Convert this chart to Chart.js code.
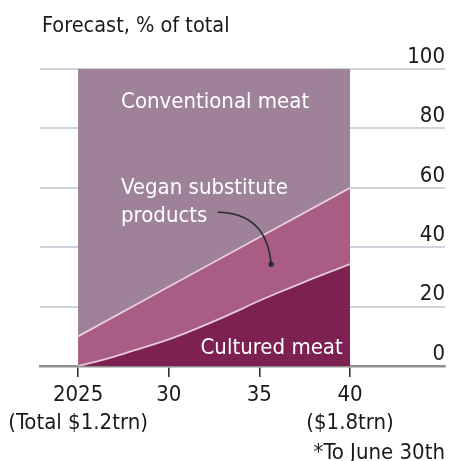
<!DOCTYPE html>
<html lang="en">
<head>
  <meta charset="UTF-8" />
  <title>Meat market forecast</title>
  <script src="https://cdn.jsdelivr.net/npm/chart.js"></script>
  <style>
    body { margin: 0; background: #fff; }
    #wrap { position: relative; width: 450px; height: 461px; }
    .txt {
      position: absolute;
      font-family: "DejaVu Sans Condensed", sans-serif;
      font-size: 22px;
      color: #1a1a1a;
      white-space: nowrap;
      line-height: 1;
    }
    #titulo { left: 42px; top: 14px; font-size: 21.5px; }
    #nota { right: 5px; top: 441px; }
  </style>
</head>
<body>
  <div id="wrap">
    <canvas id="grafico"></canvas>
    <div class="txt" id="titulo">Forecast, % of total</div>
    <div class="txt" id="nota">*To June 30th</div>
  </div>

<script>
  // values
  var culturedYears = [2025, 2026, 2027, 2028, 2029, 2030, 2031, 2032, 2033, 2034, 2035, 2036, 2037, 2038, 2039, 2040];
  var culturedShare = [0, 1.5, 3.2, 5.1, 7, 9, 11.3, 13.8, 16.4, 19.2, 22, 24.6, 27.1, 29.6, 32, 34.3];

  // top edge of vegan band (vegan + cultured)
  var veganTopYears = [2025, 2030, 2035, 2040];
  var veganTop = [10, 26.7, 43.4, 60];

  var conventionalYears = [2025, 2040];
  var conventionalTop = [100, 100];

  var tickYears = [2025, 2030, 2035, 2040];
  var tickLabels = ["2025", "30", "35", "40"];
  var tickNotes = ["(Total $1.2trn)", "", "", "($1.8trn)"];

  var FONT = '"DejaVu Sans Condensed", sans-serif';

  function pontos(xs, ys) {
    return xs.map(function (x, i) { return { x: x, y: ys[i] }; });
  }

  // in-chart labels and the pointer, placed in data units
  var rotulos = [
    { text: "Conventional meat", x: 2032.56, y: 86.9, align: "center" },
    { text: "Vegan substitute", x: 2027.37, y: 57.9, align: "left" },
    { text: "products", x: 2027.37, y: 48.6, align: "left" },
    { text: "Cultured meat", x: 2039.6, y: 4.0, align: "right" }
  ];
  var seta = { x0: 2032.7, y0: 51.8, cx: 2035.4, cy: 51.6, x1: 2035.65, y1: 34.3 };

  var anotacoes = {
    id: "anotacoes",
    afterDatasetsDraw: function (chart) {
      var ctx = chart.ctx;
      var sx = chart.scales.x;
      var sy = chart.scales.y;
      ctx.save();
      ctx.fillStyle = "#ffffff";
      ctx.font = "22px " + FONT;
      ctx.textBaseline = "alphabetic";
      rotulos.forEach(function (r) {
        ctx.textAlign = r.align;
        ctx.fillText(r.text, sx.getPixelForValue(r.x), sy.getPixelForValue(r.y));
      });

      ctx.strokeStyle = "#2b2b2b";
      ctx.lineWidth = 1.6;
      ctx.beginPath();
      ctx.moveTo(sx.getPixelForValue(seta.x0), sy.getPixelForValue(seta.y0));
      ctx.quadraticCurveTo(
        sx.getPixelForValue(seta.cx), sy.getPixelForValue(seta.cy),
        sx.getPixelForValue(seta.x1), sy.getPixelForValue(seta.y1)
      );
      ctx.stroke();
      ctx.fillStyle = "#2b2b2b";
      ctx.beginPath();
      ctx.arc(sx.getPixelForValue(seta.x1), sy.getPixelForValue(seta.y1), 2.6, 0, Math.PI * 2);
      ctx.fill();
      ctx.restore();
    }
  };

  new Chart(document.getElementById("grafico"), {
    type: "line",
    data: {
      datasets: [
        {
          label: "Cultured meat",
          data: pontos(culturedYears, culturedShare),
          fill: "origin",
          backgroundColor: "#7d2152",
          borderColor: "rgba(240, 214, 228, 0.9)",
          borderWidth: 1.8,
          cubicInterpolationMode: "monotone",
          pointRadius: 0
        },
        {
          label: "Vegan substitute products",
          data: pontos(veganTopYears, veganTop),
          fill: "-1",
          backgroundColor: "#a95c84",
          borderColor: "rgba(240, 214, 228, 0.9)",
          borderWidth: 1.8,
          pointRadius: 0
        },
        {
          label: "Conventional meat",
          data: pontos(conventionalYears, conventionalTop),
          fill: "-1",
          backgroundColor: "#9e8299",
          borderWidth: 0,
          pointRadius: 0
        }
      ]
    },
    options: {
      responsive: true,
      maintainAspectRatio: false,
      animation: false,
      layout: {
        padding: { left: 40, right: 5, top: 69, bottom: 20 }
      },
      plugins: {
        legend: { display: false },
        tooltip: { enabled: false }
      },
      scales: {
        x: {
          type: "linear",
          min: 2022.9,
          max: 2045.24,
          afterBuildTicks: function (axis) {
            axis.ticks = tickYears.map(function (v) { return { value: v }; });
          },
          ticks: {
            autoSkip: false,
            maxRotation: 0,
            padding: 4,
            color: "#1a1a1a",
            font: { family: FONT, size: 22, lineHeight: 1.27 },
            callback: function (value) {
              var i = tickYears.indexOf(value);
              if (i < 0) return "";
              return tickNotes[i] ? [tickLabels[i], tickNotes[i]] : tickLabels[i];
            }
          },
          grid: {
            drawOnChartArea: false,
            drawTicks: true,
            tickLength: 11,
            tickColor: "#333333",
            lineWidth: 1.6
          },
          border: { display: true, color: "#8e8e8e", width: 2.5 }
        },
        y: {
          position: "right",
          min: 0,
          max: 100,
          ticks: {
            stepSize: 20,
            mirror: true,
            padding: 0,
            labelOffset: -12,
            color: "#1a1a1a",
            font: { family: FONT, size: 22 }
          },
          grid: {
            drawTicks: false,
            color: "#cdd4db",
            lineWidth: 2
          },
          border: { display: false }
        }
      }
    },
    plugins: [anotacoes]
  });
</script>
</body>
</html>
